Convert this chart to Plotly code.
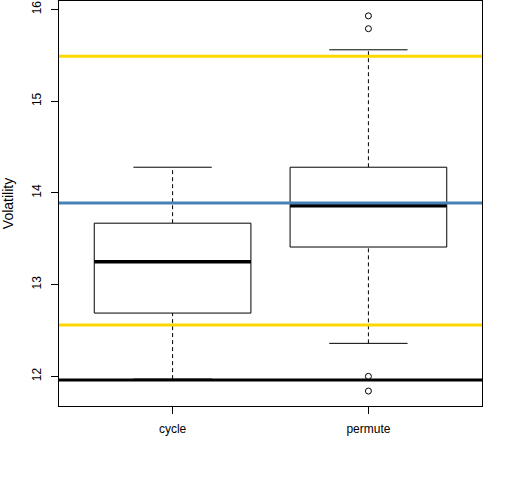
import plotly.graph_objects as go

groups = ["cycle", "permute"]
positions = [1, 2]
lower_whisker = [11.97, 12.36]
q1 = [12.69, 13.41]
median = [13.25, 13.86]
q3 = [13.67, 14.28]
upper_whisker = [14.28, 15.56]
outliers = [[], [15.93, 15.79, 12.00, 11.84]]

ref_levels = [15.49, 13.89, 12.56, 11.96]
ref_colors = ["#FFD700", "#4682B4", "#FFD700", "#000000"]

box_half = 0.4
cap_half = 0.2

fig = go.Figure()
shapes = []

for pos, lo, a, m, b, hi in zip(positions, lower_whisker, q1, median, q3, upper_whisker):
    # whiskers (dashed) and staples
    for y0, y1 in [(lo, a), (b, hi)]:
        shapes.append(dict(type="line", xref="x", yref="y", x0=pos, x1=pos, y0=y0, y1=y1,
                           line=dict(color="black", width=1, dash="4px,3px")))
    for yy in [lo, hi]:
        shapes.append(dict(type="line", xref="x", yref="y", x0=pos - cap_half, x1=pos + cap_half,
                           y0=yy, y1=yy, line=dict(color="black", width=1)))
    shapes.append(dict(type="rect", xref="x", yref="y", x0=pos - box_half, x1=pos + box_half,
                       y0=a, y1=b, line=dict(color="black", width=1), fillcolor="white"))
    shapes.append(dict(type="line", xref="x", yref="y", x0=pos - box_half, x1=pos + box_half,
                       y0=m, y1=m, line=dict(color="black", width=3.5)))

for lvl, col in zip(ref_levels, ref_colors):
    shapes.append(dict(type="line", xref="paper", yref="y", x0=0, x1=1, y0=lvl, y1=lvl,
                       line=dict(color=col, width=3)))

for pos, pts in zip(positions, outliers):
    if pts:
        fig.add_trace(go.Scatter(x=[pos] * len(pts), y=pts, mode="markers",
                                 marker=dict(symbol="circle-open", size=6, color="black",
                                             line=dict(width=1)),
                                 showlegend=False, hoverinfo="y"))

fig.update_layout(
    width=512, height=480,
    margin=dict(l=59, r=30, t=1, b=74),
    plot_bgcolor="white", paper_bgcolor="white",
    font=dict(family="Liberation Sans, Arial", size=12, color="black"),
    shapes=shapes,
    showlegend=False,
)
fig.update_xaxes(range=[0.42, 2.58], tickvals=positions, ticktext=groups, automargin=False,
                 showgrid=False, zeroline=False, showline=True, mirror=True,
                 linecolor="black", linewidth=1, ticks="outside", ticklen=7,
                 tickcolor="black", ticklabelstandoff=5)
fig.update_yaxes(range=[11.677, 16.092], tickvals=[12, 13, 14, 15, 16], tickangle=-90,
                 automargin=False,
                 showgrid=False, zeroline=False, showline=True, mirror=True,
                 linecolor="black", linewidth=1, ticks="outside", ticklen=7,
                 tickcolor="black", ticklabelstandoff=5,
                 title=dict(text="Volatility", standoff=14))

fig.write_html("out.html", config={"displayModeBar": False},
               post_script="document.body.style.margin='0px';")
